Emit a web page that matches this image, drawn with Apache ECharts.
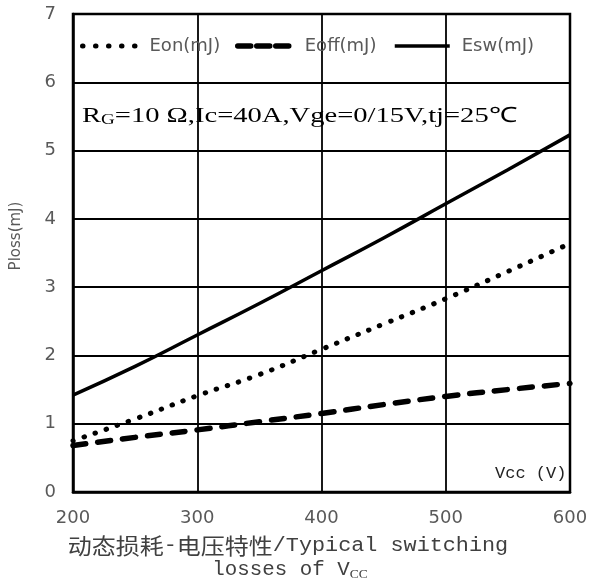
<!DOCTYPE html>
<html>
<head>
<meta charset="utf-8">
<script src="https://cdn.jsdelivr.net/npm/echarts@6/dist/echarts.min.js"></script>
<style>html,body{margin:0;padding:0;background:#fff;}#c{width:591px;height:581px;}</style>
</head>
<body>
<div id="c"></div>
<script>
var vcc  = [200, 250, 300, 350, 400, 450, 500, 550, 600];
var eon  = [0.75, 1.07, 1.41, 1.72, 2.09, 2.46, 2.83, 3.23, 3.64];
var eoff = [0.68, 0.80, 0.91, 1.03, 1.15, 1.28, 1.40, 1.50, 1.59];
var esw  = [1.42, 1.84, 2.30, 2.76, 3.24, 3.72, 4.22, 4.72, 5.23];
var seriesNames = ['Eon(mJ)', 'Eoff(mJ)', 'Esw(mJ)'];
var xTicks = [200, 300, 400, 500, 600];
var yTicks = [0, 1, 2, 3, 4, 5, 6, 7];

function pairs(xs, ys) { return xs.map(function (x, i) { return [x, ys[i]]; }); }

var chart = echarts.init(document.getElementById('c'), null, { renderer: 'canvas' });
var tickFont = { color: '#595959', fontFamily: 'DejaVu Sans', fontSize: 18 };
var dotStyle = { color: '#000', width: 5, type: [0.5, 11.2], cap: 'round' };
var dashStyle = { color: '#000', width: 5.5, type: [13, 12], cap: 'round' };
var solidStyle = { color: '#000', width: 3.5, type: 'solid' };
function legendFor(left, name, ls) {
  return {
    left: left, top: 37, itemWidth: 55, itemHeight: 14, padding: 0,
    icon: undefined,
    itemStyle: { opacity: 0 },
    lineStyle: ls,
    textStyle: { color: '#595959', fontFamily: 'DejaVu Sans', fontSize: 18, padding: [0, 0, 0, 7] },
    data: [name]
  };
}
chart.setOption({
  animation: false,
  backgroundColor: '#fff',
  grid: { left: 73, right: 21, top: 14, bottom: 89, show: true, borderColor: '#000', borderWidth: 2.5, backgroundColor: 'transparent' },
  legend: [
    legendFor(80, seriesNames[0], { color: '#000', width: 5, type: [0.5, 12.5], cap: 'round' }),
    legendFor(235, seriesNames[1], { color: '#000', width: 5.5, type: [13, 6], cap: 'round' }),
    legendFor(393, seriesNames[2], { color: '#000', width: 3.5, type: 'solid' })
  ],
  xAxis: {
    type: 'value', min: xTicks[0], max: xTicks[xTicks.length - 1], interval: 100,
    axisLine: { show: true, lineStyle: { color: '#000', width: 2.5 } },
    axisTick: { show: false },
    axisLabel: Object.assign({ margin: 17 }, tickFont),
    splitLine: { show: true, lineStyle: { color: '#000', width: 1.8 } }
  },
  yAxis: {
    type: 'value', min: yTicks[0], max: yTicks[yTicks.length - 1], interval: 1,
    axisLine: { show: true, lineStyle: { color: '#000', width: 2.5 } },
    axisTick: { show: false },
    axisLabel: Object.assign({ margin: 17 }, tickFont),
    splitLine: { show: true, lineStyle: { color: '#000', width: 1.8 } }
  },
  series: [
    { name: seriesNames[0], type: 'line', smooth: true, symbol: 'none', color: '#000',
      lineStyle: dotStyle, data: pairs(vcc, eon) },
    { name: seriesNames[1], type: 'line', smooth: true, symbol: 'none', color: '#000',
      lineStyle: dashStyle, data: pairs(vcc, eoff) },
    { name: seriesNames[2], type: 'line', smooth: true, symbol: 'none', color: '#000',
      lineStyle: solidStyle, data: pairs(vcc, esw) }
  ],
  graphic: [
    { type: 'text', x: 82, y: 116, scaleX: 1.36, z: 10,
      style: { text: '{a|R}{s|G}{a|=10 Ω,Ic=40A,Vge=0/15V,tj=25℃}', verticalAlign: 'middle',
        rich: { a: { fontFamily: 'Liberation Serif', fontSize: 21, fill: '#000', color: '#000' },
                s: { fontFamily: 'Liberation Serif', fontSize: 14, fill: '#000', color: '#000', padding: [8, 0, 0, 0] } } } },
    { type: 'text', x: 495, y: 473, z: 10,
      style: { text: 'Vcc (V)', fontFamily: 'Liberation Mono', fontSize: 17, fill: '#222', verticalAlign: 'middle' } },
    { type: 'text', x: 16, y: 236, rotation: Math.PI / 2, z: 10,
      style: { text: 'Ploss(mJ)', fontFamily: 'DejaVu Sans', fontSize: 15, fill: '#595959', align: 'center', verticalAlign: 'middle' } },
    { type: 'text', x: 288, y: 546, scaleX: 1.09, z: 10,
      style: { text: '{c|动态损耗}{m|-}{c|电压特性}{m|/Typical switching}', align: 'center', verticalAlign: 'middle',
        rich: { c: { fontFamily: 'Noto Sans CJK SC', fontSize: 22, fill: '#404040', color: '#404040' },
                m: { fontFamily: 'Liberation Mono', fontSize: 20, fill: '#404040', color: '#404040' } } } },
    { type: 'text', x: 290, y: 570, scaleX: 1.04, z: 10,
      style: { text: '{m|losses of V}{s|CC}', align: 'center', verticalAlign: 'middle',
        rich: { m: { fontFamily: 'Liberation Mono', fontSize: 20, fill: '#404040', color: '#404040' },
                s: { fontFamily: 'Liberation Serif', fontSize: 13, fill: '#404040', color: '#404040', padding: [9, 0, 0, 0] } } } }
  ]
});
</script>
</body>
</html>
